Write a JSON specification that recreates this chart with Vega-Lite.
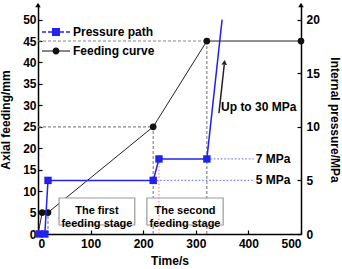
{
 "$schema": "https://vega.github.io/schema/vega-lite/v6.json",
 "width": 263,
 "height": 229,
 "autosize": "none",
 "padding": {"left": 38, "top": 5, "right": 41, "bottom": 35},
 "config": {
  "font": "Liberation Sans",
  "view": {"stroke": null},
  "axis": {"grid": false, "domainColor": "black", "domainWidth": 1.5, "tickColor": "black", "tickWidth": 1.2, "tickSize": -4, "labelFontSize": 12, "labelFontWeight": "bold", "labelColor": "black", "titleFontSize": 12, "titleFontWeight": "bold", "titleColor": "black", "labelPadding": 3}
 },
 "datasets": {
  "feed": [
   {"t": 0, "v": 0, "m": false, "s": "Feeding curve"},
   {"t": 8, "v": 5, "m": true, "s": "Feeding curve"},
   {"t": 19, "v": 5, "m": true, "s": "Feeding curve"},
   {"t": 219, "v": 25, "m": true, "s": "Feeding curve"},
   {"t": 321, "v": 45, "m": true, "s": "Feeding curve"},
   {"t": 500, "v": 45, "m": true, "s": "Feeding curve"}
  ],
  "press": [
   {"t": 2, "v": 0, "m": true, "s": "Pressure path"},
   {"t": 13, "v": 0, "m": true, "s": "Pressure path"},
   {"t": 19, "v": 5, "m": true, "s": "Pressure path"},
   {"t": 219, "v": 5, "m": true, "s": "Pressure path"},
   {"t": 230, "v": 7, "m": true, "s": "Pressure path"},
   {"t": 321, "v": 7, "m": true, "s": "Pressure path"},
   {"t": 350, "v": 20, "m": false, "s": "Pressure path"}
  ],
  "refL": [
   {"t": 0, "t2": 321, "v": 45, "v2": 45},
   {"t": 0, "t2": 219, "v": 25, "v2": 25},
   {"t": 219, "t2": 219, "v": 0, "v2": 25},
   {"t": 321, "t2": 321, "v": 0, "v2": 45},
   {"t": 19, "t2": 19, "v": 0, "v2": 5}
  ],
  "refR": [
   {"t": 219, "t2": 410, "v": 5, "v2": 5},
   {"t": 321, "t2": 410, "v": 7, "v2": 7}
  ],
  "refRed": [
   {"t": 230, "t2": 230, "v": 0, "v2": 7}
  ],
  "mpa": [
   {"t": 480, "v": 7, "label": "7 MPa"},
   {"t": 480, "v": 5, "label": "5 MPa"}
  ],
  "boxes": [
   {"t": 40, "t2": 184, "v": 2.1, "v2": 8.4, "tc": 112, "vc": 5.25, "label": "The first\nfeeding stage"},
   {"t": 207, "t2": 352, "v": 2.1, "v2": 8.4, "tc": 279.5, "vc": 5.25, "label": "The second\nfeeding stage"}
  ],
  "note": [{"t": 348, "v": 29.6, "label": "Up to 30 MPa"}],
  "arrow": [{"t": 344, "v": 28.2, "t2": 354, "v2": 39.4}],
  "head": [{"t": 354.5, "v": 40}],
  "axisTops": [{"t": 0, "v": 53.4}, {"t": 500, "v": 53.4}],
  "legendKeys": [{"t": 0, "v": 0, "s": "Pressure path"}, {"t": 0, "v": 0, "s": "Feeding curve"}]
 },
 "layer": [
  {
   "encoding": {
    "x": {"field": "t", "type": "quantitative", "scale": {"domain": [0, 500], "nice": false}, "axis": {"values": [0, 100, 200, 300, 400, 500], "title": "Time/s", "titlePadding": 6, "labelPadding": 8}},
    "y": {"field": "v", "type": "quantitative", "scale": {"domain": [0, 53.4], "nice": false}, "axis": {"orient": "left", "values": [0, 5, 10, 15, 20, 25, 30, 35, 40, 45, 50], "title": "Axial feeding/mm", "titlePadding": 10, "labelPadding": 6}}
   },
   "layer": [
    {"data": {"name": "refL"}, "mark": {"type": "rule", "color": "#888888", "strokeDash": [3, 2], "strokeWidth": 1.2}, "encoding": {"x2": {"field": "t2"}, "y2": {"field": "v2"}}},
    {"data": {"name": "feed"}, "mark": {"type": "line", "color": "#222222", "strokeWidth": 1}, "encoding": {}},
    {"data": {"name": "boxes"}, "mark": {"type": "rect", "fill": "white", "stroke": "#999999", "strokeWidth": 1.2}, "encoding": {"x2": {"field": "t2"}, "y2": {"field": "v2"}}},
    {"data": {"name": "boxes"}, "mark": {"type": "text", "fontSize": 11, "fontWeight": "bold", "lineBreak": "\n", "lineHeight": 13, "color": "black"}, "encoding": {"x": {"field": "tc", "type": "quantitative"}, "y": {"field": "vc", "type": "quantitative"}, "text": {"field": "label"}}},
    {"data": {"name": "feed"}, "transform": [{"filter": "datum.m"}], "mark": {"type": "point", "filled": true, "shape": "circle", "size": 45, "opacity": 1, "color": "#111111"}, "encoding": {}},
    {"data": {"name": "legendKeys"}, "mark": {"type": "point", "filled": true, "opacity": 0, "size": 196},
     "encoding": {
      "color": {"field": "s", "type": "nominal", "scale": {"domain": ["Pressure path", "Feeding curve"], "range": ["#2222ee", "#111111"]},
       "legend": {"orient": "none", "legendX": 4, "legendY": 20, "title": null, "padding": 0, "rowPadding": 6, "labelFontSize": 12, "labelFontWeight": "bold", "labelColor": "black", "labelOffset": 17, "symbolSize": 196, "symbolOpacity": 1, "symbolStrokeWidth": 0}},
      "shape": {"field": "s", "type": "nominal", "scale": {"domain": ["Pressure path", "Feeding curve"], "range": [
        "M-1,-0.1H-0.43V0.1H-1Z M-0.14,-0.1H0.43V0.1H-0.14Z M0.43,-0.57H1.57V0.57H0.43Z M1.57,-0.1H2.14V0.1H1.57Z M2.43,-0.1H3V0.1H2.43Z",
        "M-1,-0.07H3V0.07H-1Z M1.5,0A0.5,0.5,0,1,1,0.5,0A0.5,0.5,0,1,1,1.5,0Z"]},
       "legend": {"orient": "none", "legendX": 4, "legendY": 20, "title": null, "padding": 0, "rowPadding": 6, "labelFontSize": 12, "labelFontWeight": "bold", "labelColor": "black", "labelOffset": 17, "symbolSize": 196, "symbolOpacity": 1, "symbolStrokeWidth": 0}}
     }},
    {"data": {"name": "note"}, "mark": {"type": "text", "align": "left", "fontSize": 12, "fontWeight": "bold", "color": "black"}, "encoding": {"text": {"field": "label"}}},
    {"data": {"name": "arrow"}, "mark": {"type": "rule", "color": "#222222", "strokeWidth": 1.5}, "encoding": {"x2": {"field": "t2"}, "y2": {"field": "v2"}}},
    {"data": {"name": "head"}, "mark": {"type": "point", "shape": "triangle-up", "filled": true, "color": "#222222", "size": 30, "angle": 6, "opacity": 1}, "encoding": {}},
    {"data": {"name": "axisTops"}, "mark": {"type": "point", "shape": "triangle-up", "filled": true, "color": "black", "size": 30, "opacity": 1, "clip": false}, "encoding": {}}
   ]
  },
  {
   "encoding": {
    "x": {"field": "t", "type": "quantitative", "scale": {"domain": [0, 500], "nice": false}, "axis": {"values": [0, 100, 200, 300, 400, 500], "title": "Time/s", "titlePadding": 6, "labelPadding": 8}},
    "y": {"field": "v", "type": "quantitative", "scale": {"domain": [0, 21.36], "nice": false}, "axis": {"orient": "right", "values": [0, 5, 10, 15, 20], "title": "Internal pressure/MPa", "titleAngle": 90, "titlePadding": 8, "labelPadding": 9}}
   },
   "layer": [
    {"data": {"name": "refR"}, "mark": {"type": "rule", "color": "#7777ff", "strokeDash": [1.5, 2], "strokeWidth": 1.2}, "encoding": {"x2": {"field": "t2"}, "y2": {"field": "v2"}}},
    {"data": {"name": "refRed"}, "mark": {"type": "rule", "color": "#ff8888", "strokeDash": [1.5, 2], "strokeWidth": 1.2}, "encoding": {"x2": {"field": "t2"}, "y2": {"field": "v2"}}},
    {"data": {"name": "press"}, "mark": {"type": "line", "color": "#2222ee", "strokeWidth": 1.5}, "encoding": {}},
    {"data": {"name": "press"}, "transform": [{"filter": "datum.m"}], "mark": {"type": "point", "filled": true, "shape": "square", "size": 55, "opacity": 1, "color": "#2222ee"}, "encoding": {}},
    {"data": {"name": "mpa"}, "mark": {"type": "text", "align": "right", "fontSize": 12, "fontWeight": "bold", "color": "black"}, "encoding": {"text": {"field": "label"}}}
   ]
  }
 ],
 "resolve": {"scale": {"y": "independent"}}
}
